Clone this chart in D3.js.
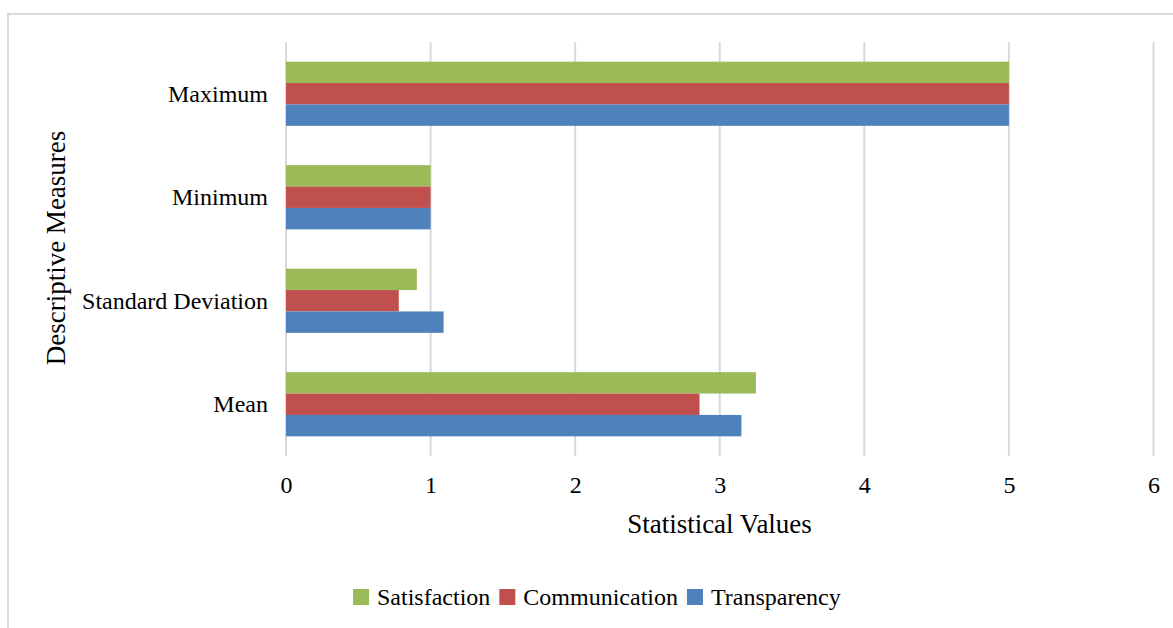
<!DOCTYPE html>
<html><head><meta charset="utf-8">
<script src="https://cdn.jsdelivr.net/npm/d3@7"></script>
<style>body{margin:0;background:#fff}svg{display:block}</style>
</head><body><svg id="c" width="1173" height="628"></svg>
<script>
const categories = ["Maximum", "Minimum", "Standard Deviation", "Mean"];
const seriesNames = ["Satisfaction", "Communication", "Transparency"];
const satisfaction = [5, 1, 0.905, 3.25];
const communication = [5, 1, 0.78, 2.86];
const transparency = [5, 1, 1.09, 3.15];
const xTicks = [0, 1, 2, 3, 4, 5, 6];
const colors = ["#9bbb59", "#c0504d", "#4f81bd"];
const seriesValues = [satisfaction, communication, transparency];

const svg = d3.select("#c");
const font = "'Liberation Serif','Times New Roman',serif";
svg.append("rect").attr("x", 8).attr("y", 14).attr("width", 1200).attr("height", 700)
  .attr("fill", "none").attr("stroke", "#d9d9d9").attr("stroke-width", 2);

const x = d3.scaleLinear().domain([0, 6]).range([286, 1153.5]);
const y = d3.scaleBand().domain(categories).range([42, 456]).paddingInner(0.38).paddingOuter(0.19);
const ySub = d3.scaleBand().domain(seriesNames).range([0, y.bandwidth()]);

// gridlines
svg.append("g").selectAll("line").data(xTicks).join("line")
  .attr("x1", d => x(d)).attr("x2", d => x(d)).attr("y1", 42).attr("y2", 456)
  .attr("stroke", "#d9d9d9").attr("stroke-width", 2);

// bars
const rows = [];
categories.forEach((c, i) => seriesNames.forEach((s, j) => rows.push({c, s, v: seriesValues[j][i], col: colors[j]})));
svg.append("g").selectAll("rect").data(rows).join("rect")
  .attr("x", x(0)).attr("y", d => y(d.c) + ySub(d.s))
  .attr("width", d => x(d.v) - x(0)).attr("height", ySub.bandwidth())
  .attr("fill", d => d.col);

// x axis
const xAxis = d3.axisBottom(x).tickValues(xTicks).tickSize(0).tickPadding(0).tickFormat(d3.format("d"));
const gx = svg.append("g").attr("transform", "translate(0,456)").call(xAxis);
gx.select(".domain").remove();
gx.selectAll("text").attr("y", 37).attr("dy", null).attr("font-family", font).attr("font-size", 24).attr("fill", "#000");

// y axis
const yAxis = d3.axisLeft(y).tickSize(0).tickPadding(18);
const gy = svg.append("g").attr("transform", "translate(286,0)").call(yAxis);
gy.select(".domain").remove();
gy.selectAll("text").attr("dy", "0.33em").attr("font-family", font).attr("font-size", 24).attr("fill", "#000");

// titles
svg.append("text").attr("x", 719.5).attr("y", 533).attr("text-anchor", "middle")
  .attr("font-family", font).attr("font-size", 27).attr("fill", "#000").text("Statistical Values");
svg.append("text").attr("transform", "translate(65,248) rotate(-90)").attr("text-anchor", "middle")
  .attr("font-family", font).attr("font-size", 27).attr("fill", "#000").text("Descriptive Measures");

// legend
const lg = svg.append("g").attr("transform", "translate(353,589)");
let lx = 0;
seriesNames.forEach((s, j) => {
  lg.append("rect").attr("x", lx).attr("y", 0).attr("width", 16).attr("height", 16).attr("fill", colors[j]);
  const t = lg.append("text").attr("x", lx + 24).attr("y", 16).attr("font-family", font).attr("font-size", 24)
    .attr("fill", "#000").text(s);
  lx += 24 + t.node().getComputedTextLength() + 9;
});
</script></body></html>
